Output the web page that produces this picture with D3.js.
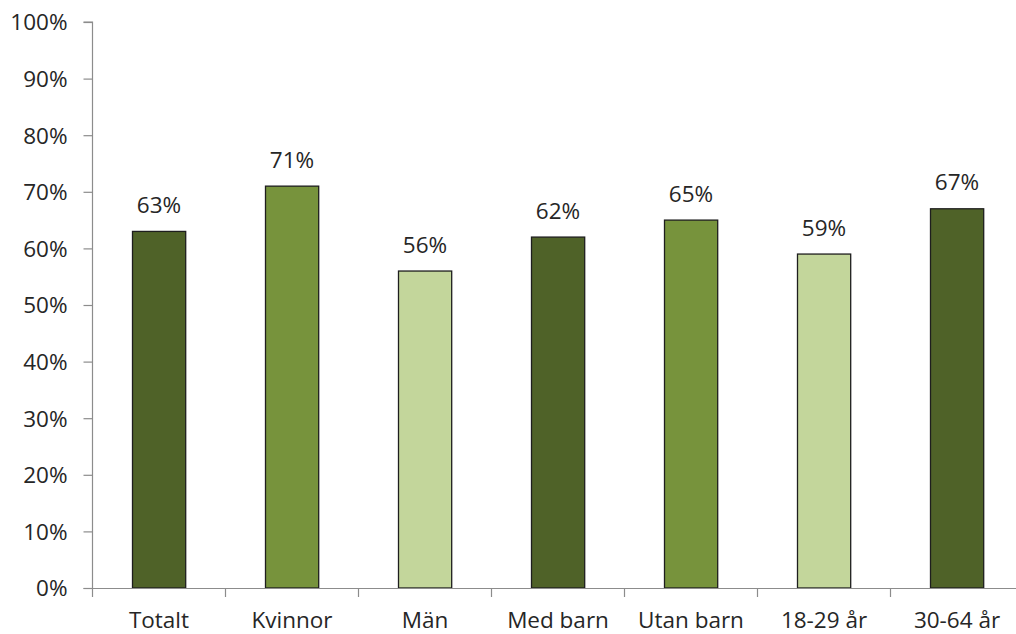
<!DOCTYPE html>
<html>
<head>
<meta charset="UTF-8">
<title>Andel</title>
<script src="https://cdnjs.cloudflare.com/ajax/libs/d3/7.8.5/d3.min.js"></script>
<style>
  body { margin: 0; background: #fff; }
  svg text { font-family: "Open Sans", "Liberation Sans", sans-serif; fill: #262626; }
</style>
</head>
<body>
<div id="chart"></div>
<script>
// data
const categories = ["Totalt", "Kvinnor", "Män", "Med barn", "Utan barn", "18-29 år", "30-64 år"];
const values = [63, 71, 56, 62, 65, 59, 67];
const colors = ["#4f6228", "#77933c", "#c3d69b", "#4f6228", "#77933c", "#c3d69b", "#4f6228"];
const yTicks = [0, 10, 20, 30, 40, 50, 60, 70, 80, 90, 100];

const W = 1016, H = 634;
const mLeft = 92.5, mTop = 22, mBottom = 588;
const fs = "22.5px";

const svg = d3.select("#chart").append("svg")
    .attr("width", W)
    .attr("height", H);

const x = d3.scaleBand()
    .domain(categories)
    .range([mLeft, mLeft + 133 * categories.length])
    .paddingInner(0.6)
    .paddingOuter(0.3);

const y = d3.scaleLinear().domain([0, 100]).range([mBottom, mTop]);

// bars
svg.selectAll("rect.bar")
    .data(values)
    .enter()
    .append("rect")
    .attr("class", "bar")
    .attr("x", (d, i) => Math.round(x(categories[i])) + 0.5)
    .attr("y", d => y(d))
    .attr("width", x.bandwidth())
    .attr("height", d => y(0) - y(d))
    .attr("fill", (d, i) => colors[i])
    .attr("stroke", "#1e1e1e")
    .attr("stroke-width", 1.3);

// value labels
svg.selectAll("text.val")
    .data(values)
    .enter()
    .append("text")
    .attr("class", "val")
    .attr("x", (d, i) => x(categories[i]) + x.bandwidth() / 2)
    .attr("y", d => y(d) - 18.5)
    .attr("text-anchor", "middle")
    .style("font-size", fs)
    .text(d => d + "%");

// y axis
const yAxis = d3.axisLeft(y).tickValues(yTicks).tickFormat(d => d + "%").tickSize(9).tickPadding(16);
const gy = svg.append("g")
    .attr("transform", "translate(" + mLeft + ",0)")
    .call(yAxis);
gy.selectAll("text").style("font-size", fs).attr("dy", "0.35em");

// x axis with ticks between categories
const gx = svg.append("g")
    .attr("transform", "translate(0," + mBottom + ")");
gx.append("line")
    .attr("x1", mLeft - 9).attr("x2", W)
    .attr("y1", 0.5).attr("y2", 0.5);
gx.selectAll("line.tk")
    .data(d3.range(categories.length + 1))
    .enter()
    .append("line")
    .attr("class", "tk")
    .attr("x1", i => mLeft + i * x.step())
    .attr("x2", i => mLeft + i * x.step())
    .attr("y1", 0).attr("y2", 9);
gx.selectAll("text")
    .data(categories)
    .enter()
    .append("text")
    .attr("x", d => x(d) + x.bandwidth() / 2)
    .attr("y", 40)
    .attr("text-anchor", "middle")
    .style("font-size", fs)
    .text(d => d);

svg.selectAll("g line, g path").attr("stroke", "#8c8c8c").attr("stroke-width", 1.2);
gy.select("path.domain").attr("d", "M" + (-9) + "," + mTop + "H0V" + mBottom);
</script>
</body>
</html>
